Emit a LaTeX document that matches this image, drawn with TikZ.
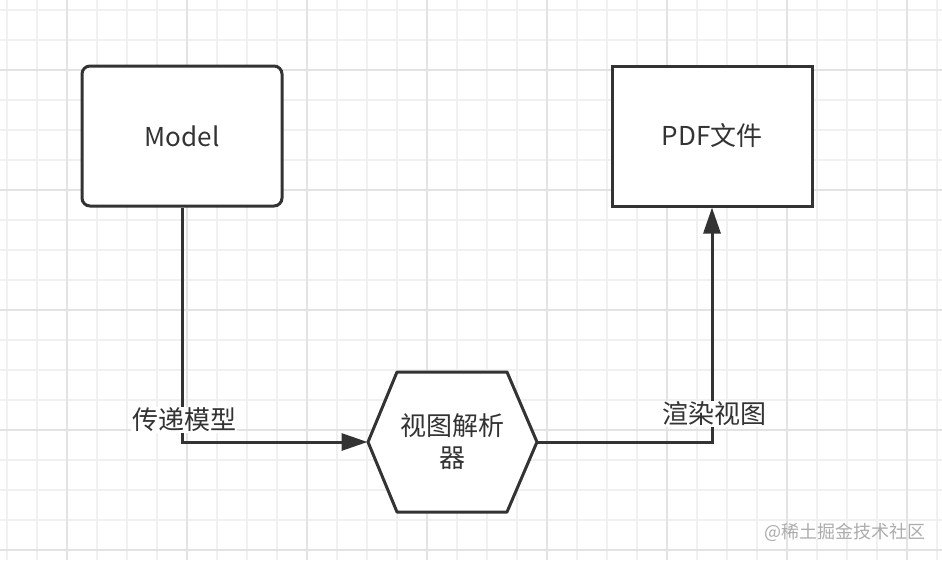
\documentclass[tikz,border=0pt]{standalone}
\usepackage{fontspec}
\setmainfont{Noto Sans CJK SC}
\usetikzlibrary{arrows.meta}
\definecolor{ink}{HTML}{333333}
\definecolor{gridminor}{HTML}{F0F0F0}
\definecolor{gridmajor}{HTML}{E3E3E3}
\begin{document}
\begin{tikzpicture}[x=1pt,y=-1pt,
  box/.style={draw=ink,line width=3pt,fill=white,minimum width=200pt,minimum height=140pt,text=ink,font=\fontsize{26}{30}\selectfont},
  hexa/.style={minimum width=169pt,minimum height=140pt,inner sep=0pt,outer sep=0pt,text=ink,align=center,font=\fontsize{26}{32}\selectfont},
  hexline/.style={draw=ink,line width=3pt,fill=white,line join=round},
  lbl/.style={fill=white,text=ink,inner sep=1pt,font=\fontsize{26}{30}\selectfont},
  conn/.style={draw=ink,line width=3pt,-{Triangle[length=26pt,width=17pt]}}]
\useasboundingbox (0,0) rectangle (942,560);
\fill[white] (0,0) rectangle (942,560);
% grid
\foreach \x in {7,37,...,937} \draw[gridminor,line width=1.5pt] (\x,0) -- (\x,560);
\foreach \y in {10,40,...,550} \draw[gridminor,line width=1.5pt] (0,\y) -- (942,\y);
\foreach \x in {67,187,...,907} \draw[gridmajor,line width=1.5pt] (\x,0) -- (\x,560);
\foreach \y in {70,190,...,550} \draw[gridmajor,line width=1.5pt] (0,\y) -- (942,\y);

\node[box,rounded corners=8pt] (model) at (182,136) {Model};
\node[box] (pdf) at (712,136) {PDF文件};

% hexagon
\coordinate (pc) at (452,442);
\path[hexline] (368,442) -- (397,372) -- (507,372) -- (537,442) -- (507,512) -- (397,512) -- cycle;
\node[hexa] (parser) at (pc) {视图解析\\器};

\path[conn] (model.south) |- (parser.west);
\path[conn] (parser.east) -| (pdf.south);

\node[lbl] (pass) at (184,420) {传递模型};
\node[lbl] (render) at (714,414) {渲染视图};

\node[text=gray!65,font=\fontsize{18}{20}\selectfont] (mark) at (845,532) {@稀土掘金技术社区};
\end{tikzpicture}
\end{document}
